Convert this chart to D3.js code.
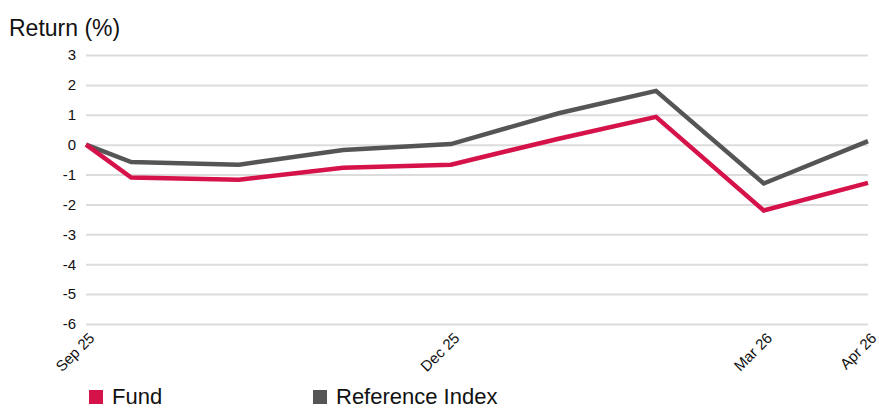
<!DOCTYPE html>
<html>
<head>
<meta charset="utf-8">
<script src="https://cdn.jsdelivr.net/npm/d3@7"></script>
<style>
  body { margin: 0; background: #fff; }
  text { font-family: "Liberation Sans", Arial, sans-serif; fill: #111; }
</style>
</head>
<body>
<div id="chart"></div>
<script>
// Data
const dates = ["2025-09-17", "2025-09-30", "2025-10-31", "2025-11-30", "2025-12-31",
    "2026-01-31", "2026-02-28", "2026-03-31", "2026-04-30"];
const fundValues = [0, -1.1, -1.17, -0.77, -0.67, 0.2, 0.93, -2.2, -1.28];
const indexValues = [0, -0.58, -0.67, -0.18, 0.02, 1.05, 1.8, -1.3, 0.12];
const tickDates = ["2025-09-17", "2025-12-31", "2026-03-31", "2026-04-30"];
const tickLabels = ["Sep 25", "Dec 25", "Mar 26", "Apr 26"];
const yTicks = [3, 2, 1, 0, -1, -2, -3, -4, -5, -6];
const seriesNames = ["Fund", "Reference Index"];
const colors = ["#d6124a", "#555555"];

const parse = d3.timeParse("%Y-%m-%d");
const W = 879, H = 409;
const margin = {top: 55, right: 11, bottom: 85, left: 86};
const width = W - margin.left - margin.right,
    height = H - margin.top - margin.bottom;

const svg = d3.select("#chart").append("svg")
    .attr("width", W)
    .attr("height", H);

const g = svg.append("g")
    .attr("transform", `translate(${margin.left},${margin.top})`);

const x = d3.scaleTime()
    .domain([parse(dates[0]), parse(dates[dates.length - 1])])
    .range([0, width]);

const y = d3.scaleLinear()
    .domain([-6, 3])
    .range([height, 0]);

// Title
svg.append("text")
    .attr("x", 9)
    .attr("y", 36)
    .style("font-size", "23px")
    .text("Return (%)");

// Grid lines + y labels
const yAxis = g.append("g")
    .call(d3.axisLeft(y).tickValues(yTicks).tickSize(-width).tickFormat(d => String(d)));
yAxis.select(".domain").remove();
yAxis.selectAll(".tick line")
    .attr("stroke", "#dcdcdc")
    .attr("stroke-width", 2);
yAxis.selectAll(".tick text")
    .attr("x", -10)
    .style("font-size", "15px")
    .style("font-family", "Liberation Sans, Arial, sans-serif")
    .attr("fill", "#111");

// X labels
const xAxis = g.append("g")
    .attr("transform", `translate(0,${height})`)
    .call(d3.axisBottom(x)
        .tickValues(tickDates.map(parse))
        .tickSize(0)
        .tickFormat((d, i) => tickLabels[i]));
xAxis.select(".domain").remove();
xAxis.selectAll(".tick text")
    .style("font-size", "15px")
    .style("font-family", "Liberation Sans, Arial, sans-serif")
    .attr("fill", "#111")
    .attr("text-anchor", "end")
    .attr("dy", null)
    .attr("y", 0)
    .attr("transform", "translate(9,15) rotate(-45)");

// Lines
const line = d3.line()
    .x((d, i) => x(parse(dates[i])))
    .y(d => y(d));

// draw index first, fund on top
[indexValues, fundValues].forEach((vals, k) => {
    g.append("path")
        .datum(vals)
        .attr("fill", "none")
        .attr("stroke", k === 0 ? colors[1] : colors[0])
        .attr("stroke-width", 4.5)
        .attr("stroke-linejoin", "miter")
        .attr("d", line);
});

// Legend
const legendX = [89, 313];
const legend = svg.selectAll(".legend")
    .data(seriesNames)
    .enter().append("g")
    .attr("class", "legend")
    .attr("transform", (d, i) => `translate(${legendX[i]},390)`);

legend.append("rect")
    .attr("width", 14)
    .attr("height", 14)
    .attr("fill", (d, i) => colors[i]);

legend.append("text")
    .attr("x", 23)
    .attr("y", 14)
    .style("font-size", "22px")
    .text(d => d);
</script>
</body>
</html>
